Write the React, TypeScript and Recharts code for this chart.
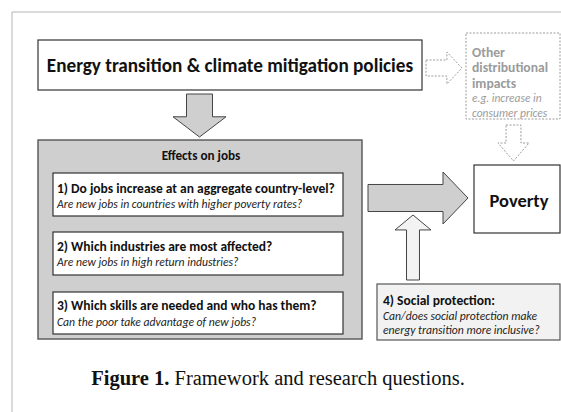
import { ComposedChart, XAxis, YAxis, ReferenceArea, ReferenceDot, ReferenceLine } from 'recharts'

const W = 561
const H = 412

// diagram units: 0..561 across, 0..412 down
const frameSegments = [
  [{ x: 12, y: 12 }, { x: 561, y: 12 }],
  [{ x: 12, y: 12 }, { x: 12, y: 412 }],
]

const boxKind = ['plain', 'dashed', 'panel', 'plain', 'plain', 'plain', 'plain', 'light']
const boxX = [[38, 422], [466, 560], [38, 362], [53, 343], [53, 343], [53, 343], [474, 560], [377, 560]]
const boxY = [[40, 90], [33, 119], [140, 339], [173, 216], [232, 275], [292, 334], [165, 233], [284, 340]]

const arrowKind = ['dashed', 'gray', 'dashed', 'gray', 'light']
const arrowDir = ['right', 'down', 'down', 'right', 'up']
const arrowX = [[426, 462], [173, 226], [498, 529], [368, 468], [395, 431]]
const arrowY = [[52, 84], [94, 137], [125, 161], [172, 224], [215, 280]]
const arrowShaft = [0.5, 0.49, 0.48, 0.52, 0.36]
const arrowHead = [0.58, 0.53, 0.5, 0.75, 0.23]

const labelText = [
  'Energy transition & climate mitigation policies',
  'Other',
  'distributional',
  'impacts',
  'e.g. increase in',
  'consumer prices',
  'Effects on jobs',
  '1) Do jobs increase at an aggregate country-level?',
  'Are new jobs in countries with higher poverty rates?',
  '2) Which industries are most affected?',
  'Are new jobs in high return industries?',
  '3) Which skills are needed and who has them?',
  'Can the poor take advantage of new jobs?',
  'Poverty',
  '4) Social protection:',
  'Can/does social protection make',
  'energy transition more inclusive?',
]
const labelX = [230, 472, 472, 472, 472, 472, 201, 57, 57, 57, 57, 57, 57, 519, 383, 383, 383]
const labelY = [65, 52, 67, 83, 98, 113, 155, 188, 204, 246, 262, 305, 322, 200, 300, 316, 330]
const labelRole = [
  'title', 'otherHead', 'otherHead', 'otherHead', 'otherNote', 'otherNote',
  'panelHead', 'q', 'qNote', 'q', 'qNote', 'q', 'qNote', 'poverty', 'q', 'qNote', 'qNote',
]

const captionLead = 'Figure 1.'
const captionRest = ' Framework and research questions.'
const captionAt = { x: 278, y: 378 }

const SANS = 'Carlito, Calibri, Lato, sans-serif'

const roleStyle: Record<string, any> = {
  title: { fontSize: 19.2, fontWeight: 700, fill: '#111', textAnchor: 'middle' },
  otherHead: { fontSize: 13.6, fontWeight: 700, fill: '#9b9b9b', textAnchor: 'start' },
  otherNote: { fontSize: 11.5, fontStyle: 'italic', fill: '#9b9b9b', textAnchor: 'start' },
  panelHead: { fontSize: 13.2, fontWeight: 700, fill: '#111', textAnchor: 'middle' },
  q: { fontSize: 13.5, fontWeight: 700, fill: '#111', textAnchor: 'start' },
  qNote: { fontSize: 11.7, fontStyle: 'italic', fill: '#222', textAnchor: 'start' },
  poverty: { fontSize: 18.5, fontWeight: 700, fill: '#111', textAnchor: 'middle' },
}

const boxStyle: Record<string, any> = {
  plain: { fill: '#ffffff', stroke: '#333', strokeWidth: 1.2 },
  dashed: { fill: 'none', stroke: '#9d9d9d', strokeWidth: 1, strokeDasharray: '2 1.5' },
  panel: { fill: '#d0cfcf', stroke: '#555', strokeWidth: 1.4 },
  light: { fill: '#f2f2f2', stroke: '#555', strokeWidth: 1.2 },
}

const arrowStyle: Record<string, any> = {
  dashed: { fill: '#ffffff', stroke: '#9d9d9d', strokeWidth: 1, strokeDasharray: '2 1.5' },
  gray: { fill: '#d0cfcf', stroke: '#444', strokeWidth: 1 },
  light: { fill: '#f3f3f3', stroke: '#444', strokeWidth: 1 },
}

function arrowPoints(dir: string, x: number, y: number, w: number, h: number, shaft: number, head: number) {
  if (dir === 'right') {
    const s1 = y + (h * (1 - shaft)) / 2
    const s2 = y + (h * (1 + shaft)) / 2
    const hx = x + w * head
    return [[x, s1], [hx, s1], [hx, y], [x + w, y + h / 2], [hx, y + h], [hx, s2], [x, s2]]
  }
  const s1 = x + (w * (1 - shaft)) / 2
  const s2 = x + (w * (1 + shaft)) / 2
  if (dir === 'down') {
    const hy = y + h * head
    return [[s1, y], [s2, y], [s2, hy], [x + w, hy], [x + w / 2, y + h], [x, hy], [s1, hy]]
  }
  const hy = y + h * head
  return [[s1, y + h], [s2, y + h], [s2, hy], [x + w, hy], [x + w / 2, y], [x, hy], [s1, hy]]
}

export default function App() {
  return (
    <div style={{ position: 'absolute', left: 0, top: 0, width: W, height: H, background: '#fff' }}>
      <ComposedChart width={W} height={H} data={[]} margin={{ top: 0, right: 0, bottom: 0, left: 0 }}>
        <XAxis type="number" dataKey="x" domain={[0, W]} allowDataOverflow hide />
        <YAxis type="number" dataKey="y" domain={[0, H]} allowDataOverflow reversed hide width={0} />

        {frameSegments.map((seg, i) => (
          <ReferenceLine key={`frame-${i}`} segment={seg} stroke="#b5b5b5" strokeWidth={1} ifOverflow="visible" />
        ))}

        {boxKind.map((kind, i) => (
          <ReferenceArea
            key={`box-${i}`}
            x1={boxX[i][0]}
            x2={boxX[i][1]}
            y1={boxY[i][0]}
            y2={boxY[i][1]}
            ifOverflow="visible"
            shape={(p: any) => (
              <rect x={p.x} y={p.y} width={p.width} height={p.height} {...boxStyle[kind]} />
            )}
          />
        ))}

        {arrowKind.map((kind, i) => (
          <ReferenceArea
            key={`arrow-${i}`}
            x1={arrowX[i][0]}
            x2={arrowX[i][1]}
            y1={arrowY[i][0]}
            y2={arrowY[i][1]}
            ifOverflow="visible"
            shape={(p: any) => (
              <polygon
                points={arrowPoints(arrowDir[i], p.x, p.y, p.width, p.height, arrowShaft[i], arrowHead[i])
                  .map((pt) => pt.join(','))
                  .join(' ')}
                strokeLinejoin="miter"
                {...arrowStyle[kind]}
              />
            )}
          />
        ))}

        {labelText.map((text, i) => (
          <ReferenceDot
            key={`label-${i}`}
            x={labelX[i]}
            y={labelY[i]}
            ifOverflow="visible"
            shape={(p: any) => (
              <text x={p.cx} y={p.cy} dominantBaseline="central" fontFamily={SANS} {...roleStyle[labelRole[i]]}>
                {text}
              </text>
            )}
          />
        ))}

        <ReferenceDot
          x={captionAt.x}
          y={captionAt.y}
          ifOverflow="visible"
          shape={(p: any) => (
            <text
              x={p.cx}
              y={p.cy}
              dominantBaseline="central"
              textAnchor="middle"
              fontFamily="'Liberation Serif', 'DejaVu Serif', serif"
              fontSize={20.5}
              fill="#111"
            >
              <tspan fontWeight={700}>{captionLead}</tspan>
              <tspan>{captionRest}</tspan>
            </text>
          )}
        />
      </ComposedChart>
    </div>
  )
}
